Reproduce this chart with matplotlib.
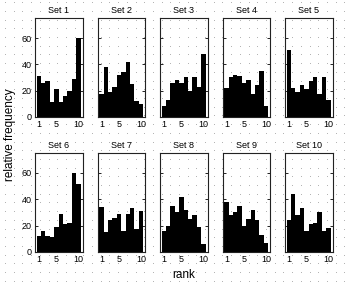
import numpy as np
import matplotlib
matplotlib.use("Agg")
import matplotlib.pyplot as plt

plt.rcParams['font.family'] = ['Liberation Sans', 'DejaVu Sans']

# rank positions and histogram heights for each set
ranks = np.arange(1, 11)
titles = ["Set 1", "Set 2", "Set 3", "Set 4", "Set 5",
          "Set 6", "Set 7", "Set 8", "Set 9", "Set 10"]
set1 = [31, 26, 27, 11, 21, 11, 16, 20, 29, 60]
set2 = [17, 38, 19, 23, 32, 34, 42, 25, 12, 10]
set3 = [8, 13, 26, 28, 26, 30, 20, 30, 23, 48]
set4 = [22, 30, 32, 31, 26, 28, 17, 24, 35, 8]
set5 = [51, 22, 19, 24, 21, 27, 30, 17, 30, 13]
set6 = [12, 16, 12, 11, 19, 29, 21, 22, 60, 52]
set7 = [34, 15, 24, 26, 29, 16, 29, 33, 17, 31]
set8 = [16, 20, 35, 30, 42, 32, 25, 28, 19, 6]
set9 = [38, 28, 30, 35, 20, 25, 32, 24, 13, 7]
set10 = [24, 44, 28, 33, 16, 21, 22, 30, 16, 18]
all_sets = [set1, set2, set3, set4, set5, set6, set7, set8, set9, set10]

yticks = [0, 20, 40, 60]
xticks = [1, 5, 10]

W, H = 348, 282
fig = plt.figure(figsize=(W / 100, H / 100), dpi=100)
fig.patch.set_facecolor('white')

# dotted background texture
bg = fig.add_axes([0, 0, 1, 1], zorder=-1)
bg.set_xlim(0, W)
bg.set_ylim(H, 0)
bg.axis('off')
gx, gy = np.meshgrid(np.arange(5, W, 8.7), np.arange(3.3, H, 8.7))
bg.plot(gx.ravel(), gy.ravel(), ',', color='#b4b4b4')

lefts = [35, 97.7, 160, 222.7, 285]
tops = [18.3, 153.3]
pw, ph = 47.5, 98.5

for i, vals in enumerate(all_sets):
    row, col = divmod(i, 5)
    ax = fig.add_axes([lefts[col] / W, 1 - (tops[row] + ph) / H, pw / W, ph / H])
    ax.set_facecolor('none')
    ax.bar(ranks, vals, width=1.0, color='black', edgecolor='none')
    ax.set_xlim(0.15, 10.95)
    ax.set_ylim(0, 75)
    ax.set_xticks(xticks)
    ax.set_yticks(yticks)
    ax.tick_params(direction='in', length=2, width=0.6, labelsize=6.5,
                   pad=2.5, right=True, top=False)
    if col != 0:
        ax.set_yticklabels([])
    for s in ax.spines.values():
        s.set_linewidth(0.8)
        s.set_color('#222222')
    ax.set_title(titles[i], fontsize=6.5, pad=4)

fig.text(10 / W, 1 - 135 / H, "relative frequency", rotation=90,
         ha='center', va='center', fontsize=8.5)
fig.text(184 / W, 1 - 275 / H, "rank", ha='center', va='center', fontsize=8.5)

fig.savefig("out.png", dpi=100)
